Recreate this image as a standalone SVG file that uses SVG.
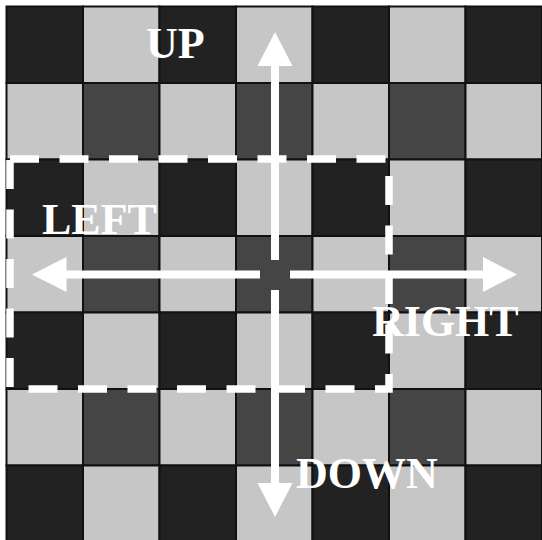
<svg xmlns="http://www.w3.org/2000/svg" width="542" height="540" viewBox="0 0 542 540">
  <style>
    .d { fill: #222222; }
    .l { fill: #c6c6c6; }
    .m { fill: #454545; }
    .cell { stroke: #111111; stroke-width: 2; }
    .region { fill: none; stroke: #ffffff; stroke-width: 7.5; stroke-dasharray: 29 20.5; stroke-linejoin: miter; }
    .shaft { stroke: #ffffff; stroke-width: 8; fill: none; }
    .head { fill: #ffffff; }
    .label { font-family: "Liberation Serif", "Times New Roman", serif; font-weight: bold; font-size: 44px; fill: #ffffff; }
  </style>
  <rect x="0" y="0" width="542" height="540" fill="#ffffff"/>
  <g id="board">
    <!-- row 0 -->
    <rect class="cell d" x="6.5" y="6.5" width="76.5" height="76.5"/>
    <rect class="cell l" x="83" y="6.5" width="76.5" height="76.5"/>
    <rect class="cell d" x="159.5" y="6.5" width="76.5" height="76.5"/>
    <rect class="cell l" x="236" y="6.5" width="76.5" height="76.5"/>
    <rect class="cell d" x="312.5" y="6.5" width="76.5" height="76.5"/>
    <rect class="cell l" x="389" y="6.5" width="76.5" height="76.5"/>
    <rect class="cell d" x="465.5" y="6.5" width="76.5" height="76.5"/>
    <!-- row 1 -->
    <rect class="cell l" x="6.5" y="83" width="76.5" height="76.5"/>
    <rect class="cell m" x="83" y="83" width="76.5" height="76.5"/>
    <rect class="cell l" x="159.5" y="83" width="76.5" height="76.5"/>
    <rect class="cell m" x="236" y="83" width="76.5" height="76.5"/>
    <rect class="cell l" x="312.5" y="83" width="76.5" height="76.5"/>
    <rect class="cell m" x="389" y="83" width="76.5" height="76.5"/>
    <rect class="cell l" x="465.5" y="83" width="76.5" height="76.5"/>
    <!-- row 2 -->
    <rect class="cell d" x="6.5" y="159.5" width="76.5" height="76.5"/>
    <rect class="cell l" x="83" y="159.5" width="76.5" height="76.5"/>
    <rect class="cell d" x="159.5" y="159.5" width="76.5" height="76.5"/>
    <rect class="cell l" x="236" y="159.5" width="76.5" height="76.5"/>
    <rect class="cell d" x="312.5" y="159.5" width="76.5" height="76.5"/>
    <rect class="cell l" x="389" y="159.5" width="76.5" height="76.5"/>
    <rect class="cell d" x="465.5" y="159.5" width="76.5" height="76.5"/>
    <!-- row 3 -->
    <rect class="cell l" x="6.5" y="236" width="76.5" height="76.5"/>
    <rect class="cell m" x="83" y="236" width="76.5" height="76.5"/>
    <rect class="cell l" x="159.5" y="236" width="76.5" height="76.5"/>
    <rect class="cell m" x="236" y="236" width="76.5" height="76.5"/>
    <rect class="cell l" x="312.5" y="236" width="76.5" height="76.5"/>
    <rect class="cell m" x="389" y="236" width="76.5" height="76.5"/>
    <rect class="cell l" x="465.5" y="236" width="76.5" height="76.5"/>
    <!-- row 4 -->
    <rect class="cell d" x="6.5" y="312.5" width="76.5" height="76.5"/>
    <rect class="cell l" x="83" y="312.5" width="76.5" height="76.5"/>
    <rect class="cell d" x="159.5" y="312.5" width="76.5" height="76.5"/>
    <rect class="cell l" x="236" y="312.5" width="76.5" height="76.5"/>
    <rect class="cell d" x="312.5" y="312.5" width="76.5" height="76.5"/>
    <rect class="cell l" x="389" y="312.5" width="76.5" height="76.5"/>
    <rect class="cell d" x="465.5" y="312.5" width="76.5" height="76.5"/>
    <!-- row 5 -->
    <rect class="cell l" x="6.5" y="389" width="76.5" height="76.5"/>
    <rect class="cell m" x="83" y="389" width="76.5" height="76.5"/>
    <rect class="cell l" x="159.5" y="389" width="76.5" height="76.5"/>
    <rect class="cell m" x="236" y="389" width="76.5" height="76.5"/>
    <rect class="cell l" x="312.5" y="389" width="76.5" height="76.5"/>
    <rect class="cell m" x="389" y="389" width="76.5" height="76.5"/>
    <rect class="cell l" x="465.5" y="389" width="76.5" height="76.5"/>
    <!-- row 6 -->
    <rect class="cell d" x="6.5" y="465.5" width="76.5" height="76.5"/>
    <rect class="cell l" x="83" y="465.5" width="76.5" height="76.5"/>
    <rect class="cell d" x="159.5" y="465.5" width="76.5" height="76.5"/>
    <rect class="cell l" x="236" y="465.5" width="76.5" height="76.5"/>
    <rect class="cell d" x="312.5" y="465.5" width="76.5" height="76.5"/>
    <rect class="cell l" x="389" y="465.5" width="76.5" height="76.5"/>
    <rect class="cell d" x="465.5" y="465.5" width="76.5" height="76.5"/>
  </g>
  <g id="region">
    <path class="region" d="M10,159 H389 V389 H10 Z"/>
  </g>
  <g id="connectors">
    <g id="arrow-up">
      <line class="shaft" x1="275" y1="260" x2="275" y2="64"/>
      <polygon class="head" points="275,32 257.5,66 292.5,66"/>
    </g>
    <g id="arrow-down">
      <line class="shaft" x1="275" y1="290" x2="275" y2="485"/>
      <polygon class="head" points="275,517 257.5,483 292.5,483"/>
    </g>
    <g id="arrow-left">
      <line class="shaft" x1="260" y1="274.5" x2="64" y2="274.5"/>
      <polygon class="head" points="32,274.5 66.5,257 66.5,292"/>
    </g>
    <g id="arrow-right">
      <line class="shaft" x1="290" y1="274.5" x2="485" y2="274.5"/>
      <polygon class="head" points="517,274.5 483,257 483,292"/>
    </g>
  </g>
  <g id="labels">
    <text id="label-up" class="label" x="146" y="58">UP</text>
    <text id="label-left" class="label" x="42" y="234">LEFT</text>
    <text id="label-right" class="label" x="372" y="336">RIGHT</text>
    <text id="label-down" class="label" x="296" y="488">DOWN</text>
  </g>
</svg>
